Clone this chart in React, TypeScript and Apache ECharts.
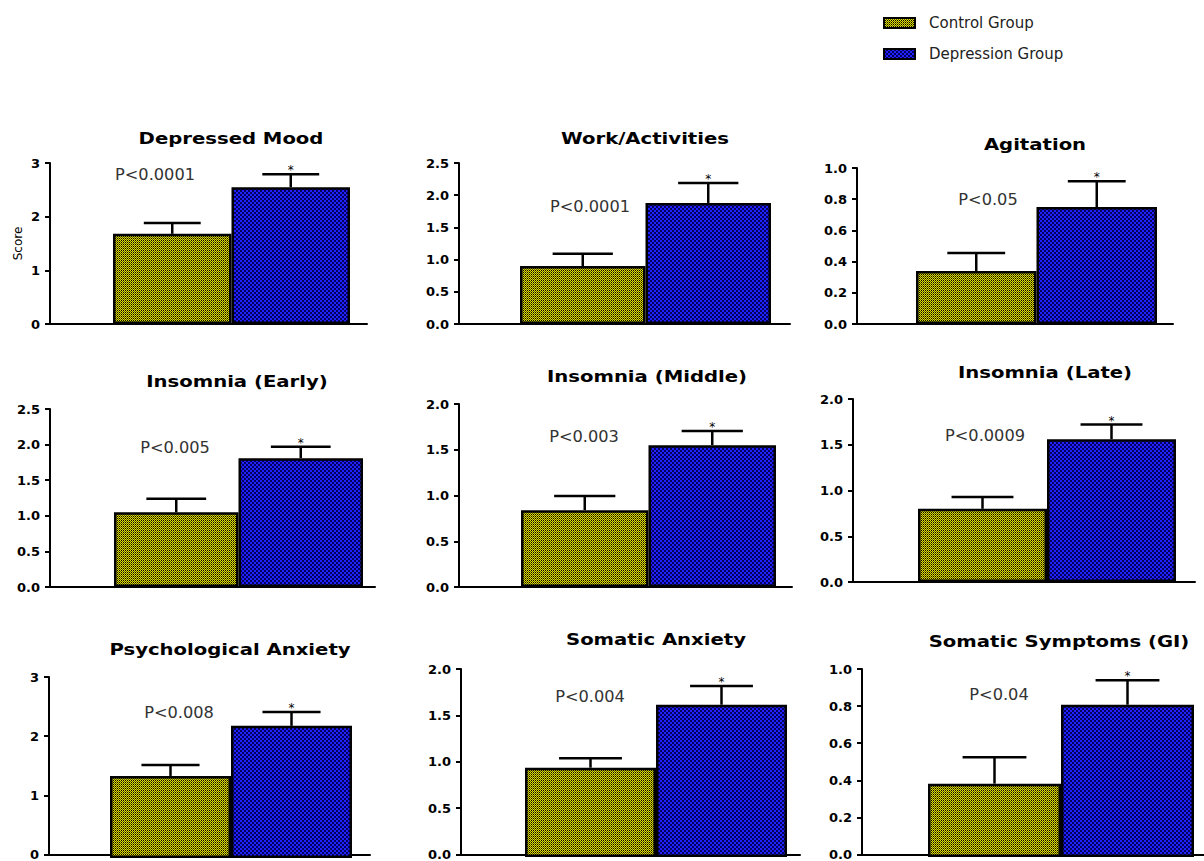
import React, { useEffect, useRef } from "react";
import * as echarts from "echarts";

// ---- data ----
const categories = [
  "Depressed Mood",
  "Work/Activities",
  "Agitation",
  "Insomnia (Early)",
  "Insomnia (Middle)",
  "Insomnia (Late)",
  "Psychological Anxiety",
  "Somatic Anxiety",
  "Somatic Symptoms (GI)",
];
const groups = ["Control Group", "Depression Group"];
const controlMean = [1.68, 0.9, 0.34, 1.05, 0.84, 0.8, 1.36, 0.95, 0.39];
const controlSEM = [0.2, 0.19, 0.115, 0.19, 0.155, 0.13, 0.18, 0.1, 0.14];
const depressionMean = [2.55, 1.88, 0.75, 1.81, 1.55, 1.56, 2.19, 1.62, 0.81];
const depressionSEM = [0.24, 0.31, 0.165, 0.16, 0.155, 0.16, 0.23, 0.2, 0.13];
const pValues = [
  "P<0.0001",
  "P<0.0001",
  "P<0.05",
  "P<0.005",
  "P<0.003",
  "P<0.0009",
  "P<0.008",
  "P<0.004",
  "P<0.04",
];
const yMax = [3, 2.5, 1.0, 2.5, 2.0, 2.0, 3, 2.0, 1.0];
const yInterval = [1, 0.5, 0.2, 0.5, 0.5, 0.5, 1, 0.5, 0.2];

// ---- layout (pixels) ----
// [axisX, axisEnd, top, bottom, barLeft, barRight]
const panelBox = [
  [50, 367, 163, 324, 113, 350],
  [459, 790, 163, 324, 520, 771],
  [857, 1173, 168, 324, 916, 1157],
  [50, 375, 409, 587, 114, 363],
  [459, 792, 404, 587, 521, 776],
  [853, 1195, 399, 582, 918, 1176],
  [49, 370, 677, 858, 110, 352],
  [461, 800, 669, 857, 525, 787],
  [862, 1204, 669, 857, 928, 1194],
];
const titlePos = [
  [231, 139],
  [645, 139],
  [1035, 145],
  [237, 382],
  [647, 377],
  [1045, 373],
  [230, 650],
  [656, 640],
  [1059, 642],
];
const pPos = [
  [155, 175],
  [590, 207],
  [988, 200],
  [175, 448],
  [584, 437],
  [985, 436],
  [179, 713],
  [590, 697],
  [999, 695],
];

const FONT = "DejaVu Sans";

function makePattern(cells: string[][], cell: number) {
  const rows = cells.length;
  const cols = cells[0].length;
  const c = document.createElement("canvas");
  c.width = cols * cell;
  c.height = rows * cell;
  const ctx = c.getContext("2d")!;
  for (let r = 0; r < rows; r++) {
    for (let k = 0; k < cols; k++) {
      ctx.fillStyle = cells[r][k];
      ctx.fillRect(k * cell, r * cell, cell, cell);
    }
  }
  return c;
}

function buildOption() {
  const Y = "#e2de00";
  const D = "#5a5800";
  const B = "#2222ff";
  const K = "#000000";
  const N = "#000060";
  const controlFill = {
    image: makePattern(
      [
        [Y, K],
        [D, Y],
      ],
      1
    ),
    repeat: "repeat",
  };
  const depressionFill = {
    image: makePattern(
      [
        [B, N],
        [N, B],
      ],
      2
    ),
    repeat: "repeat",
  };
  const controlStyle = { color: controlFill, borderColor: "#000", borderWidth: 2.5 };
  const depressionStyle = { color: depressionFill, borderColor: "#000", borderWidth: 2.5 };

  const grid: any[] = [];
  const xAxis: any[] = [];
  const yAxis: any[] = [];
  const series: any[] = [];
  const graphic: any[] = [];

  categories.forEach((name, i) => {
    const [ax, axEnd, top, bottom, bl, br] = panelBox[i];
    const dec = yInterval[i] < 1 ? 1 : 0;
    const gA = i * 2;
    const gB = i * 2 + 1;
    grid.push({ left: ax, top, width: axEnd - ax, height: bottom - top });
    grid.push({ left: bl, top, width: br - bl, height: bottom - top });

    xAxis.push({
      gridIndex: gA,
      type: "category",
      data: [""],
      axisLine: { show: true, lineStyle: { color: "#000", width: 2 } },
      axisTick: { show: false },
      axisLabel: { show: false },
    });
    xAxis.push({
      gridIndex: gB,
      type: "category",
      data: groups,
      show: false,
    });
    yAxis.push({
      gridIndex: gA,
      type: "value",
      min: 0,
      max: yMax[i],
      interval: yInterval[i],
      axisLine: { show: true, lineStyle: { color: "#000", width: 2 } },
      axisTick: { show: true, length: 5, lineStyle: { color: "#000", width: 2 } },
      axisLabel: {
        color: "#000",
        fontWeight: "bold",
        fontSize: 13,
        fontFamily: FONT,
        margin: 10,
        formatter: (v: number) => v.toFixed(dec),
      },
      splitLine: { show: false },
      name: i === 0 ? "Score" : "",
      nameLocation: "middle",
      nameGap: 26,
      nameRotate: 90,
      nameTextStyle: { color: "#000", fontSize: 12, fontFamily: FONT },
    });
    yAxis.push({
      gridIndex: gB,
      type: "value",
      min: 0,
      max: yMax[i],
      show: false,
    });

    series.push({
      name: groups[0],
      type: "bar",
      xAxisIndex: gB,
      yAxisIndex: gB,
      data: [controlMean[i], "-"],
      barGap: "-100%",
      barCategoryGap: "0%",
      itemStyle: controlStyle,
    });
    series.push({
      name: groups[1],
      type: "bar",
      xAxisIndex: gB,
      yAxisIndex: gB,
      data: ["-", depressionMean[i]],
      barGap: "-100%",
      barCategoryGap: "0%",
      itemStyle: depressionStyle,
    });
    series.push({
      type: "custom",
      name: "err" + i,
      xAxisIndex: gB,
      yAxisIndex: gB,
      silent: true,
      z: 3,
      encode: { x: 0, y: 1 },
      data: [
        [0, controlMean[i], controlSEM[i]],
        [1, depressionMean[i], depressionSEM[i]],
      ],
      renderItem: (params: any, api: any) => {
        const idx = api.value(0);
        const mean = api.value(1);
        const sem = api.value(2);
        const base = api.coord([idx, mean]);
        const tp = api.coord([idx, mean + sem]);
        const band = api.size([1, 0])[0];
        const hw = band * 0.24;
        const ls = { stroke: "#000", lineWidth: 2.5 };
        const children: any[] = [
          { type: "line", shape: { x1: base[0], y1: base[1], x2: tp[0], y2: tp[1] }, style: ls },
          { type: "line", shape: { x1: tp[0] - hw, y1: tp[1], x2: tp[0] + hw, y2: tp[1] }, style: ls },
        ];
        if (idx === 1) {
          children.push({
            type: "text",
            x: tp[0],
            y: tp[1] - 4,
            style: {
              text: "*",
              fill: "#000",
              fontSize: 12,
              fontFamily: FONT,
              align: "center",
              verticalAlign: "middle",
            },
          });
        }
        return { type: "group", children };
      },
    });

    graphic.push({
      type: "text",
      x: titlePos[i][0],
      y: titlePos[i][1],
      scaleX: 1.31,
      style: {
        text: name,
        fill: "#000",
        fontSize: 15,
        fontWeight: "bold",
        fontFamily: FONT,
        align: "center",
        verticalAlign: "middle",
      },
    });
    graphic.push({
      type: "text",
      x: pPos[i][0],
      y: pPos[i][1],
      scaleX: 1.08,
      style: {
        text: pValues[i],
        fill: "#333",
        fontSize: 15,
        fontFamily: FONT,
        align: "center",
        verticalAlign: "middle",
      },
    });
  });

  return {
    animation: false,
    backgroundColor: "#fff",
    legend: {
      data: groups,
      orient: "vertical",
      left: 883,
      top: 14,
      padding: 0,
      itemWidth: 31,
      itemHeight: 10,
      itemGap: 13,
      icon: "rect",
      textStyle: {
        color: "#222",
        fontSize: 15,
        fontFamily: FONT,
        lineHeight: 18,
        padding: [0, 0, 0, 9],
      },
    },
    grid,
    xAxis,
    yAxis,
    series,
    graphic,
  };
}

export default function App() {
  const ref = useRef<HTMLDivElement>(null);
  useEffect(() => {
    if (!ref.current) return;
    const chart = echarts.init(ref.current, undefined, { renderer: "svg" });
    chart.setOption(buildOption() as any);
    return () => chart.dispose();
  }, []);
  return (
    <div
      ref={ref}
      style={{ position: "fixed", left: 0, top: 0, width: 1204, height: 861, background: "#fff" }}
    />
  );
}
